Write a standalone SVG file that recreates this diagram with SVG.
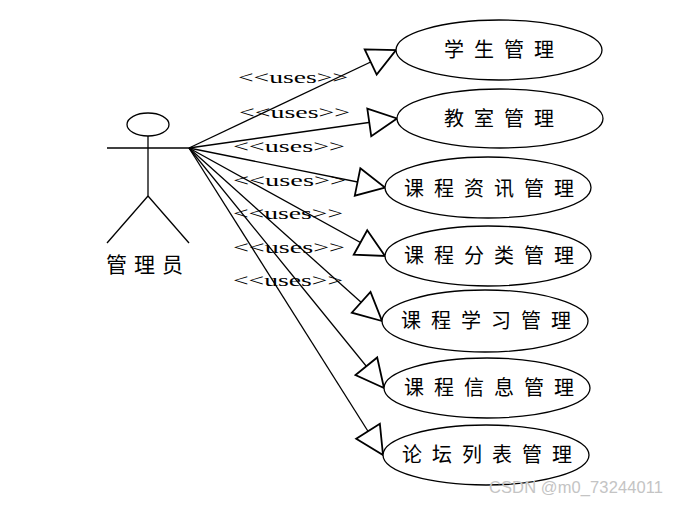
<svg xmlns="http://www.w3.org/2000/svg" width="680" height="505" viewBox="0 0 680 505">
<style>
.ln{stroke:#000;stroke-width:1.3;fill:none}
.uc{fill:#fff;stroke:#000;stroke-width:1.3}
.cj{font-family:"Noto Sans CJK SC","Noto Sans CJK JP",sans-serif;font-size:20px;letter-spacing:10px;fill:#000}
.us{font-family:"Liberation Serif",serif;font-size:17px;fill:#000}
.wm{font-family:"Liberation Sans",Arial,sans-serif;font-size:16.5px;fill:#c4c4c4}
</style>
<defs>
<marker id="tri" markerUnits="userSpaceOnUse" markerWidth="32" markerHeight="32" refX="28" refY="15" orient="auto" overflow="visible">
<path d="M0,1 L28,15 L0,29 Z" fill="#fff" stroke="#000" stroke-width="1.8" stroke-linejoin="miter"/>
</marker>
</defs>
<rect width="680" height="505" fill="#fff"/>
<g id="connectors">
<line class="ln" x1="189" y1="148" x2="396" y2="50" marker-end="url(#tri)"/>
<line class="ln" x1="189" y1="148" x2="397" y2="118.5" marker-end="url(#tri)"/>
<line class="ln" x1="189" y1="148" x2="385" y2="187.5" marker-end="url(#tri)"/>
<line class="ln" x1="189" y1="148" x2="385" y2="256" marker-end="url(#tri)"/>
<line class="ln" x1="189" y1="148" x2="382" y2="321" marker-end="url(#tri)"/>
<line class="ln" x1="189" y1="148" x2="384" y2="388" marker-end="url(#tri)"/>
<line class="ln" x1="189" y1="148" x2="383" y2="455" marker-end="url(#tri)"/>
<text class="us" x="238" y="83" textLength="110" lengthAdjust="spacingAndGlyphs">&lt;&lt;uses&gt;&gt;</text>
<text class="us" x="239" y="118" textLength="111" lengthAdjust="spacingAndGlyphs">&lt;&lt;uses&gt;&gt;</text>
<text class="us" x="233" y="152" textLength="112" lengthAdjust="spacingAndGlyphs">&lt;&lt;uses&gt;&gt;</text>
<text class="us" x="233" y="186" textLength="113" lengthAdjust="spacingAndGlyphs">&lt;&lt;uses&gt;&gt;</text>
<text class="us" x="233" y="219" textLength="110" lengthAdjust="spacingAndGlyphs">&lt;&lt;uses&gt;&gt;</text>
<text class="us" x="233" y="253" textLength="112" lengthAdjust="spacingAndGlyphs">&lt;&lt;uses&gt;&gt;</text>
<text class="us" x="233" y="286" textLength="110" lengthAdjust="spacingAndGlyphs">&lt;&lt;uses&gt;&gt;</text>
</g>
<g id="actor">
<ellipse class="ln" cx="148" cy="124.5" rx="21" ry="11.5"/>
<line class="ln" x1="148" y1="136" x2="148" y2="196"/>
<line class="ln" x1="107" y1="148" x2="189" y2="148"/>
<line class="ln" x1="148" y1="196" x2="107" y2="243"/>
<line class="ln" x1="148" y1="196" x2="189" y2="243"/>
<text class="cj" x="106" y="272" style="font-size:21px;letter-spacing:7px">管理员</text>
</g>
<g id="uc1"><ellipse class="uc" cx="499" cy="50" rx="103" ry="30"/><text class="cj" x="444" y="57">学生管理</text></g>
<g id="uc2"><ellipse class="uc" cx="500" cy="118.5" rx="103" ry="29.5"/><text class="cj" x="444" y="125.5">教室管理</text></g>
<g id="uc3"><ellipse class="uc" cx="488" cy="187.5" rx="103" ry="30.5"/><text class="cj" x="404" y="195.5">课程资讯管理</text></g>
<g id="uc4"><ellipse class="uc" cx="488" cy="256" rx="103" ry="30"/><text class="cj" x="404" y="263">课程分类管理</text></g>
<g id="uc5"><ellipse class="uc" cx="485" cy="321" rx="103" ry="31"/><text class="cj" x="401" y="328">课程学习管理</text></g>
<g id="uc6"><ellipse class="uc" cx="487" cy="388" rx="103" ry="30"/><text class="cj" x="404" y="395">课程信息管理</text></g>
<g id="uc7"><ellipse class="uc" cx="486" cy="455" rx="103" ry="30"/><text class="cj" x="402" y="462">论坛列表管理</text></g>
<text class="wm" x="489" y="493" textLength="174">CSDN @m0_73244011</text>
</svg>
